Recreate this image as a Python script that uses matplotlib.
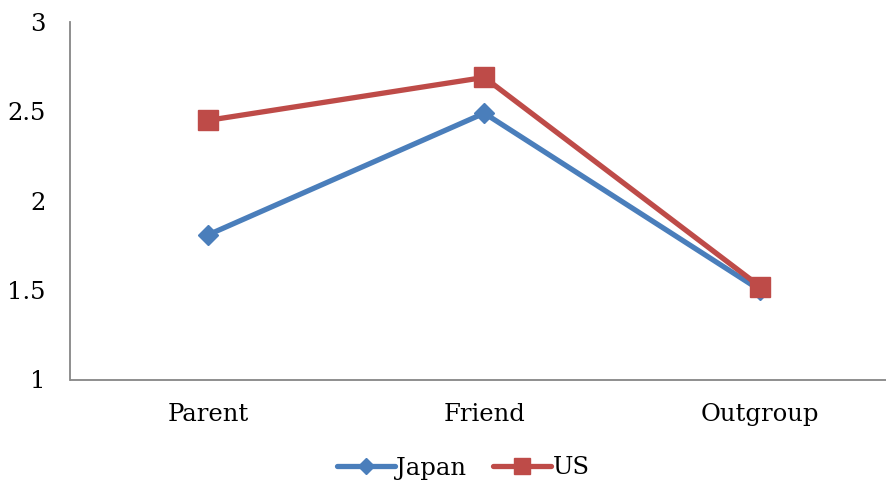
import matplotlib
matplotlib.use("Agg")
import matplotlib.pyplot as plt

# Mean ratings by relationship target
categories = ["Parent", "Friend", "Outgroup"]
japan = [1.81, 2.49, 1.50]
us = [2.45, 2.69, 1.52]
y_ticks = [1, 1.5, 2, 2.5, 3]
y_tick_labels = ["1", "1.5", "2", "2.5", "3"]

plt.rcParams["font.family"] = ["DejaVu Serif"]
plt.rcParams["font.size"] = 17.5

W, H = 887, 487
fig = plt.figure(figsize=(W / 100, H / 100), dpi=100)
left, right_px, top, bottom = 70.5, 898, 22, 379.5
ax = fig.add_axes([left / W, 1 - bottom / H, (right_px - left) / W, (bottom - top) / H])

x = list(range(len(categories)))
blue = "#4A7EBB"
red = "#BE4B48"
ax.plot(x, japan, color=blue, lw=3.8, marker="D", ms=10, mfc=blue, mec=blue,
        label="Japan", solid_capstyle="round")
ax.plot(x, us, color=red, lw=3.8, marker="s", ms=14, mfc=red, mec=red,
        label="US", solid_capstyle="round")

ax.set_xlim(-0.5, len(categories) - 0.5)
ax.set_ylim(1, 3)
ax.set_yticks(y_ticks)
ax.set_yticklabels(y_tick_labels)
ax.set_xticks(x)
ax.set_xticklabels(categories)
ax.tick_params(axis="y", length=0, pad=18)
ax.tick_params(axis="x", length=0, pad=17)

for s in ["top", "right"]:
    ax.spines[s].set_visible(False)
for s in ["left", "bottom"]:
    ax.spines[s].set_color("#868686")
    ax.spines[s].set_linewidth(1.3)

fig.legend(loc="center", bbox_to_anchor=(463 / W, 1 - 468 / H), ncol=2,
           frameon=False, handlelength=2.4, handletextpad=0.05, columnspacing=1.1,
           borderaxespad=0, markerscale=0.8)

fig.savefig("out.png", dpi=100)
